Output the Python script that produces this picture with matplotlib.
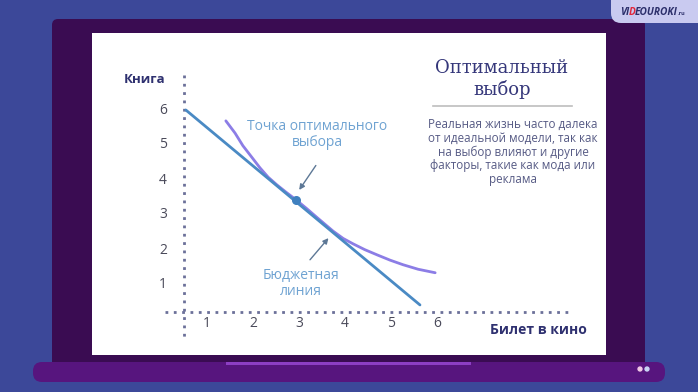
import matplotlib
matplotlib.use("Agg")
import matplotlib.pyplot as plt
from matplotlib.patches import Rectangle, FancyBboxPatch
from matplotlib.transforms import offset_copy

# --- Farben ---
BG = "#3c4899"
FRAME = "#3a0c52"
BASE = "#57157e"
SCREEN = "#ffffff"
NAVY = "#2f3170"
TICK = "#4a4a5a"
BUDGET = "#4a8ac4"
CURVE = "#8c7de6"
NOTE = "#6fa3d2"
ARROW = "#5d7896"
DOTS = "#6b7099"

# --- Daten ---
ticks = [1, 2, 3, 4, 5, 6]
budget_x = [0.54, 5.63]
budget_y = [6.0, 0.43]
curve_x = [1.41, 1.61, 1.78, 1.98, 2.15, 2.33, 2.52, 2.72, 2.93, 3.17, 3.39, 3.74,
           3.96, 4.17, 4.43, 4.70, 4.98, 5.26, 5.59, 5.96]
curve_y = [5.69, 5.34, 4.98, 4.64, 4.35, 4.08, 3.86, 3.65, 3.44, 3.18, 2.93, 2.54,
           2.33, 2.18, 2.01, 1.86, 1.71, 1.58, 1.45, 1.35]
opt_x, opt_y = 2.93, 3.42

fig = plt.figure(figsize=(6.98, 3.92), dpi=100)
fig.patch.set_facecolor(BG)

# Hintergrund in Pixelkoordinaten (Laptop-Rahmen)
bg = fig.add_axes([0, 0, 1, 1])
bg.set_xlim(0, 698)
bg.set_ylim(392, 0)
bg.axis("off")
bg.add_patch(FancyBboxPatch((52, 19), 593, 350, boxstyle="round,pad=0,rounding_size=6",
                            fc=FRAME, ec="none"))
bg.add_patch(Rectangle((92, 33), 514, 322, fc=SCREEN, ec="none"))
bg.add_patch(FancyBboxPatch((33, 362), 632, 20, boxstyle="round,pad=0,rounding_size=9",
                            fc=BASE, ec="none"))
bg.add_patch(Rectangle((226, 362), 245, 3, fc="#8d3ec4", ec="none"))
bg.scatter([640, 647], [369, 369], s=8, color=["#f2c9e6", "#c9d6f5"], zorder=3)
bg.add_patch(FancyBboxPatch((611, -12), 100, 35, boxstyle="round,pad=0,rounding_size=10",
                            fc="#c9caf0", ec="none"))

# Logo: VI + rotes D + EOUROKI, nacheinander gesetzt
fig.canvas.draw()
renderer = fig.canvas.get_renderer()
trans = bg.transData
x_off = 0
for part, col in [("VI", "#2c2f6b"), ("D", "#e0283c"), ("EOUROKI", "#2c2f6b")]:
    t = bg.text(620, 12, part, fontsize=7.3, fontweight="bold", style="italic",
                color=col, va="center", ha="left", family="Open Sans",
                transform=offset_copy(trans, fig=fig, x=x_off, y=0, units="dots"))
    x_off += t.get_window_extent(renderer).width - 0.5
bg.text(620, 13, ".ru", fontsize=4, fontweight="bold", color="#2c2f6b", va="center",
        ha="left", family="Open Sans",
        transform=offset_copy(trans, fig=fig, x=x_off + 0.5, y=0, units="dots"))

# Rechte Textspalte
bg.text(502, 68, "Оптимальный", fontsize=13, color="#35377a", ha="center", va="center",
        family="DejaVu Serif")
bg.text(502, 89, "выбор", fontsize=13, color="#35377a", ha="center", va="center",
        family="DejaVu Serif")
bg.plot([433, 572], [106, 106], color="#bdbdbd", lw=1.2)
bg.text(513, 152, "Реальная жизнь часто далека\nот идеальной модели, так как\n"
        "на выбор влияют и другие\nфакторы, такие как мода или\nреклама",
        fontsize=8.4, color="#575b85", ha="center", va="center", linespacing=1.08,
        family="Open Sans")

# Diagramm-Achse: x 0 bei px 161 (46 px/Einheit), y 0 bei px 320 (35 px/Einheit)
ax = fig.add_axes([161 / 698, (392 - 320) / 392, 460 / 698, 280 / 392])
ax.set_xlim(0, 10)
ax.set_ylim(0, 8)
ax.patch.set_alpha(0)
ax.axis("off")

ax.plot([0.5, 0.5], [7.0, -0.5], ls=(0, (1, 2)), lw=2, color=DOTS, clip_on=False)
ax.plot([0.09, 8.93], [0.23, 0.23], ls=(0, (1, 2)), lw=2, color=DOTS, clip_on=False)

for t in ticks:
    ax.text(0.13, t, str(t), ha="right", va="center", fontsize=10, color=TICK,
            family="Open Sans")
    ax.text(t, -0.1, str(t), ha="center", va="center", fontsize=10, color=TICK,
            family="Open Sans")
ax.text(-0.35, 6.86, "Книга", ha="center", va="center", fontsize=9.5,
        fontweight="bold", color=NAVY, family="Open Sans")
ax.text(8.2, -0.3, "Билет в кино", ha="center", va="center", fontsize=10,
        fontweight="bold", color=NAVY, family="Open Sans", clip_on=False)

ax.plot(curve_x, curve_y, color=CURVE, lw=2, solid_capstyle="round",
        solid_joinstyle="round")
ax.plot(budget_x, budget_y, color=BUDGET, lw=2, solid_capstyle="round")
ax.scatter([opt_x], [opt_y], s=30, color="#3f80bf", zorder=4)

ax.text(3.4, 5.3, "Точка оптимального\nвыбора", ha="center", va="center",
        fontsize=10, color=NOTE, linespacing=1.15, family="Open Sans")
ax.annotate("", xy=(2.97, 3.65), xytext=(3.4, 4.48),
            arrowprops=dict(arrowstyle="-|>", color=ARROW, lw=1, mutation_scale=8))
ax.text(3.04, 1.04, "Бюджетная\nлиния", ha="center", va="center",
        fontsize=10, color=NOTE, linespacing=1.15, family="Open Sans")
ax.annotate("", xy=(3.68, 2.4), xytext=(3.2, 1.66),
            arrowprops=dict(arrowstyle="-|>", color=ARROW, lw=1, mutation_scale=8))

fig.savefig("out.png", dpi=100)
